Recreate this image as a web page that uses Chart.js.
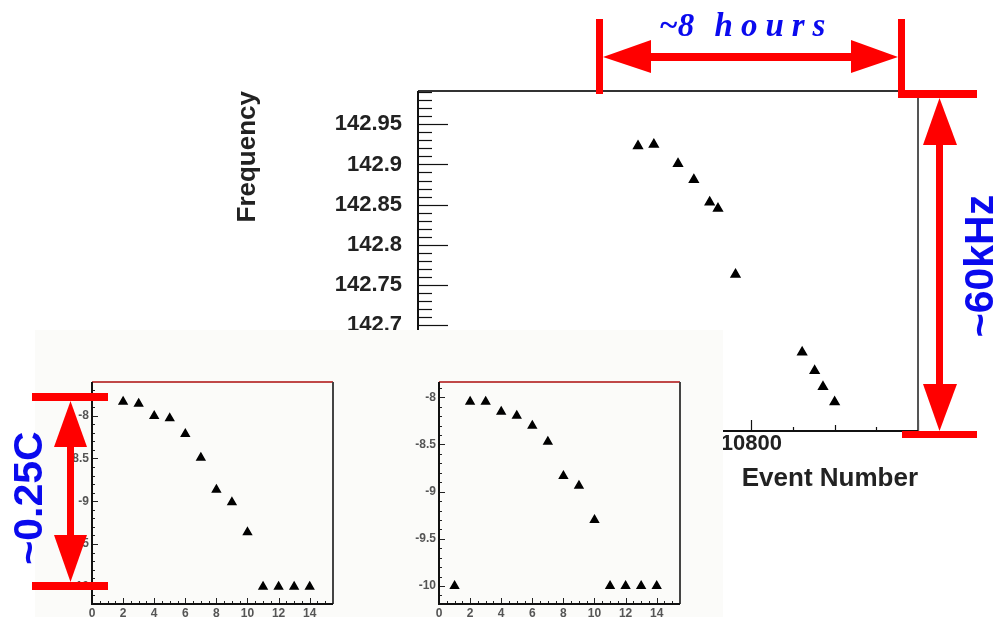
<!DOCTYPE html>
<html>
<head>
<meta charset="utf-8">
<script src="https://cdn.jsdelivr.net/npm/chart.js@4"></script>
<style>
html,body{margin:0;padding:0;background:#fff;}
#wrap{position:relative;width:995px;height:617px;overflow:hidden;font-family:"Liberation Sans",Arial,sans-serif;}
#wrap canvas{position:absolute;}
#insetBg{position:absolute;left:35px;top:330px;width:688px;height:287px;background:#fbfbf9;}
#arrows{position:absolute;left:0;top:0;}
.ann{position:absolute;color:#0a0aee;white-space:pre;}
#hours{left:659px;top:9px;font:italic bold 33px/33px "Liberation Serif","Times New Roman",serif;}
#hours span{letter-spacing:8px;margin-left:12px;}
.rot{font:bold 41px/41px "Liberation Sans",Arial,sans-serif;transform:translate(-50%,-50%) rotate(-90deg);}
#khz{left:979px;top:266px;}
#degc{left:28px;top:498px;}
</style>
</head>
<body>
<div id="wrap">
  <canvas id="mainChart" width="995" height="617" style="left:0;top:0"></canvas>
  <div id="insetBg"></div>
  <canvas id="insetA" width="360" height="277" style="left:22px;top:340px"></canvas>
  <canvas id="insetB" width="360" height="277" style="left:369px;top:340px"></canvas>
  <svg id="arrows" width="995" height="617" viewBox="0 0 995 617">
    <g fill="#ff0000">
      <rect x="596" y="19" width="7" height="75"/>
      <rect x="898" y="19" width="7" height="79"/>
      <rect x="640" y="53" width="220" height="8"/>
      <polygon points="603,57 651,40 651,73"/>
      <polygon points="898,57 851,40 851,73"/>
      <rect x="902" y="90" width="75" height="8"/>
      <rect x="902" y="431" width="75" height="7"/>
      <rect x="936" y="140" width="7" height="250"/>
      <polygon points="939.5,98 923,145 957,145"/>
      <polygon points="939.5,431 923,384 957,384"/>
      <rect x="32" y="393" width="76" height="8"/>
      <rect x="32" y="582" width="76" height="8"/>
      <rect x="67" y="440" width="7" height="100"/>
      <polygon points="70.5,401 54,447 87,447"/>
      <polygon points="70.5,582 54,535 87,535"/>
    </g>
  </svg>
  <div class="ann" id="hours">~8 <span>hours</span></div>
  <div class="ann rot" id="khz">~60kHz</div>
  <div class="ann rot" id="degc">~0.25C</div>
</div>
<script>
// ---- data ----
const eventNumber = [10664, 10683, 10712, 10731, 10750, 10760, 10781, 10861, 10876, 10886, 10900];
const frequency   = [142.923, 142.925, 142.901, 142.881, 142.853, 142.845, 142.763, 142.666, 142.643, 142.623, 142.604];
const freqTickLabels  = [142.7, 142.75, 142.8, 142.85, 142.9, 142.95];
const eventTickLabels = [10800];

const insetAIndex  = [2, 3, 4, 5, 6, 7, 8, 9, 10, 11, 12, 13, 14];
const insetAValues = [-7.836, -7.860, -8.003, -8.031, -8.214, -8.491, -8.865, -9.013, -9.364, -10.0, -10.0, -10.0, -10.0];
const insetBIndex  = [1, 2, 3, 4, 5, 6, 7, 8, 9, 10, 11, 12, 13, 14];
const insetBValues = [-10.0, -8.047, -8.047, -8.152, -8.195, -8.301, -8.470, -8.834, -8.937, -9.300, -10.0, -10.0, -10.0, -10.0];
const insetYTickLabels = [-8, -8.5, -9, -9.5, -10];
const insetXTickLabels = [0, 2, 4, 6, 8, 10, 12, 14];

Chart.defaults.font.family = '"Liberation Sans", Arial, sans-serif';

const framePlugin = {
  id: 'frame',
  afterDatasetsDraw(chart, args, o) {
    const {ctx, chartArea: a, scales: {x, y}} = chart;
    ctx.save();
    ctx.lineCap = 'butt';
    ctx.strokeStyle = o.tickColor;
    ctx.lineWidth = o.tickWidth;
    const lenFor = (k, levels) => {
      for (const [m, len] of levels) { if (k % m === 0) return len; }
      return 0;
    };
    let k0 = Math.ceil(y.min / o.yStep - 1e-6), k1 = Math.floor(y.max / o.yStep + 1e-6);
    for (let k = k0; k <= k1; k++) {
      const py = Math.round(y.getPixelForValue(k * o.yStep)) + 0.5;
      const len = lenFor(k, o.yLevels);
      ctx.beginPath(); ctx.moveTo(a.left, py); ctx.lineTo(a.left + len, py); ctx.stroke();
    }
    k0 = Math.ceil(x.min / o.xStep - 1e-6); k1 = Math.floor(x.max / o.xStep + 1e-6);
    for (let k = k0; k <= k1; k++) {
      const px = Math.round(x.getPixelForValue(k * o.xStep)) + 0.5;
      const len = lenFor(k, o.xLevels);
      ctx.beginPath(); ctx.moveTo(px, a.bottom); ctx.lineTo(px, a.bottom - len); ctx.stroke();
    }
    ctx.lineWidth = o.frameWidth;
    ctx.strokeStyle = o.topColor;
    ctx.beginPath(); ctx.moveTo(a.left, a.top); ctx.lineTo(a.right, a.top); ctx.stroke();
    ctx.strokeStyle = o.rightColor;
    ctx.beginPath(); ctx.moveTo(a.right, a.top); ctx.lineTo(a.right, a.bottom); ctx.stroke();
    ctx.lineWidth = o.axisWidth;
    ctx.strokeStyle = o.axisColor;
    ctx.beginPath(); ctx.moveTo(a.left, a.top); ctx.lineTo(a.left, a.bottom); ctx.lineTo(a.right, a.bottom); ctx.stroke();
    ctx.restore();
  }
};

// ---- main chart ----
new Chart(document.getElementById('mainChart'), {
  type: 'scatter',
  data: {
    datasets: [{
      data: eventNumber.map((v, i) => ({x: v, y: frequency[i]})),
      pointStyle: 'triangle', pointRadius: 5,
      backgroundColor: '#000', borderColor: '#000', borderWidth: 1.5
    }]
  },
  options: {
    responsive: false, animation: false, devicePixelRatio: 1,
    layout: {padding: {left: 0, top: 91, right: 77, bottom: 122}},
    plugins: {
      legend: {display: false}, tooltip: {enabled: false},
      frame: {
        tickColor: '#111', tickWidth: 1.2, yStep: 0.01, yLevels: [[5, 30], [1, 14]],
        xStep: 50, xLevels: [[4, 11], [2, 6], [1, 4]],
        frameWidth: 2, topColor: '#333', rightColor: '#555', axisWidth: 2, axisColor: '#111'
      }
    },
    scales: {
      x: {
        type: 'linear', min: 10400, max: 11000,
        afterBuildTicks: s => { s.ticks = eventTickLabels.map(v => ({value: v})); },
        afterFit: s => { s.height = 64; },
        grid: {display: false, drawTicks: false}, border: {display: false},
        ticks: {font: {size: 22, weight: 'bold'}, color: '#222', padding: 0, maxRotation: 0, autoSkip: false,
                callback: v => String(v)},
        title: {display: true, text: 'Event Number', align: 'end', color: '#222',
                font: {size: 26, weight: 'bold'}, padding: {top: 0, bottom: 1}}
      },
      y: {
        type: 'linear', min: 142.568, max: 142.9915,
        afterBuildTicks: s => { s.ticks = freqTickLabels.map(v => ({value: v})); },
        afterFit: s => { s.width = 418; },
        grid: {display: false, drawTicks: false}, border: {display: false},
        ticks: {font: {size: 22, weight: 'bold'}, color: '#222', padding: 16, autoSkip: false,
                callback: v => String(+v.toFixed(2))},
        title: {display: true, text: 'Frequency', align: 'end', color: '#222',
                font: {size: 26, weight: 'bold'}, padding: {top: 232, bottom: 0}}
      }
    }
  },
  plugins: [framePlugin]
});

// ---- insets ----
function makeInset(id, xs, ys, yMin, yMax) {
  return new Chart(document.getElementById(id), {
    type: 'scatter',
    data: {
      datasets: [{
        data: xs.map((v, i) => ({x: v, y: ys[i]})),
        pointStyle: 'triangle', pointRadius: 4.5,
        backgroundColor: '#000', borderColor: '#000', borderWidth: 1.5
      }]
    },
    options: {
      responsive: false, animation: false, devicePixelRatio: 1,
      layout: {padding: {left: 0, top: 42, right: 49, bottom: 0}},
      plugins: {
        legend: {display: false}, tooltip: {enabled: false},
        frame: {
          tickColor: '#222', tickWidth: 1, yStep: 0.1, yLevels: [[5, 6], [1, 3]],
          xStep: 0.5, xLevels: [[4, 6], [1, 3]],
          frameWidth: 2, topColor: '#c04848', rightColor: '#444', axisWidth: 2, axisColor: '#111'
        }
      },
      scales: {
        x: {
          type: 'linear', min: 0, max: 15.5,
          afterBuildTicks: s => { s.ticks = insetXTickLabels.map(v => ({value: v})); },
          afterFit: s => { s.height = 13; },
          grid: {display: false, drawTicks: false}, border: {display: false},
          ticks: {font: {size: 12, weight: 'bold'}, color: '#555', padding: 2, maxRotation: 0, autoSkip: false,
                  callback: v => String(v)}
        },
        y: {
          type: 'linear', min: yMin, max: yMax,
          afterBuildTicks: s => { s.ticks = insetYTickLabels.map(v => ({value: v})); },
          afterFit: s => { s.width = 70; },
          grid: {display: false, drawTicks: false}, border: {display: false},
          ticks: {font: {size: 12, weight: 'bold'}, color: '#555', padding: 3, autoSkip: false,
                  callback: v => String(v)}
        }
      }
    },
    plugins: [framePlugin]
  });
}
makeInset('insetA', insetAIndex, insetAValues, -10.202, -7.606);
makeInset('insetB', insetBIndex, insetBValues, -10.191, -7.838);
</script>
</body>
</html>
